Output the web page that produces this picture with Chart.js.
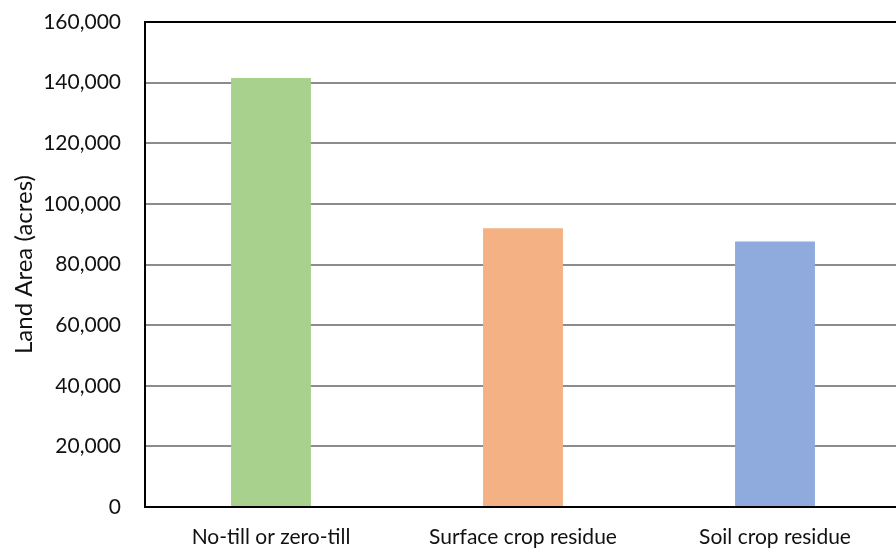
<!DOCTYPE html>
<html>
<head>
<meta charset="utf-8">
<script src="https://cdn.jsdelivr.net/npm/chart.js@4/dist/chart.umd.min.js"></script>
<style>
  html, body { margin: 0; padding: 0; background: #fff; overflow: hidden; width: 896px; height: 550px; }
  #wrap { position: relative; width: 904px; height: 550px; }
</style>
</head>
<body>
<div id="wrap"><canvas id="c"></canvas></div>
<script>
// Tillage practice categories and land area (acres)
const categories = ['No-till or zero-till', 'Surface crop residue', 'Soil crop residue'];
const landArea = [141500, 92000, 87600];
const barColors = ['#a9d18e', '#f4b183', '#8faadc'];
const yTicks = [0, 20000, 40000, 60000, 80000, 100000, 120000, 140000, 160000];

const FONT = 'Lato, "Open Sans", "Liberation Sans", sans-serif';
const TEXT = '#111';

new Chart(document.getElementById('c'), {
  type: 'bar',
  data: {
    labels: categories,
    datasets: [{
      data: landArea,
      backgroundColor: barColors,
      borderWidth: 0,
      categoryPercentage: 1,
      barPercentage: 0.317
    }]
  },
  options: {
    responsive: true,
    maintainAspectRatio: false,
    animation: false,
    layout: { padding: { top: 22, right: 3, left: 0, bottom: 0 } },
    plugins: { legend: { display: false }, tooltip: { enabled: false } },
    scales: {
      x: {
        grid: { display: false, drawTicks: false },
        border: { display: true, color: '#000', width: 2 },
        ticks: {
          color: TEXT,
          font: { family: FONT, size: 21 },
          padding: 18,
          maxRotation: 0
        },
        afterFit: s => { s.height = 43; s.paddingLeft = 0; s.paddingRight = 0; }
      },
      y: {
        min: 0,
        max: 160000,
        afterBuildTicks: s => { s.ticks = yTicks.map(v => ({ value: v })); },
        grid: {
          drawTicks: false,
          lineWidth: 2,
          color: ctx => (ctx.tick && ctx.tick.value === 160000) ? '#000' : '#8c8c8c'
        },
        border: { display: true, color: '#000', width: 2 },
        ticks: {
          color: TEXT,
          font: { family: FONT, size: 21 },
          padding: 24,
          callback: v => v.toLocaleString('en-US')
        },
        title: {
          display: true,
          text: 'Land Area (acres)',
          color: TEXT,
          font: { family: FONT, size: 24 },
          padding: { top: 10, bottom: 0 }
        },
        afterFit: s => { s.width = 145; s.paddingTop = 0; s.paddingBottom = 0; }
      }
    }
  }
});
</script>
</body>
</html>
